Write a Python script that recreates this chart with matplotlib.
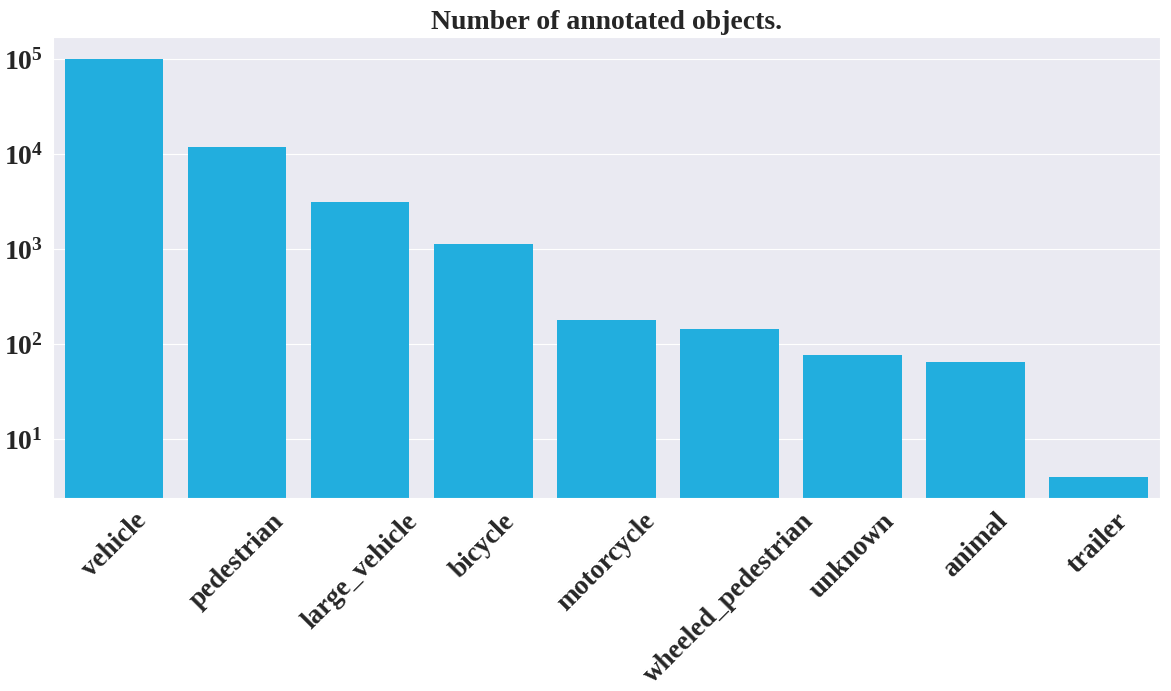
import matplotlib
matplotlib.use('Agg')
import matplotlib.pyplot as plt
import seaborn as sns

# Object counts per class
classes = ['vehicle', 'pedestrian', 'large_vehicle', 'bicycle', 'motorcycle',
           'wheeled_pedestrian', 'unknown', 'animal', 'trailer']
counts = [100000, 11900, 3170, 1130, 182, 144, 78, 65, 4]

sns.set_style('darkgrid')
plt.rcParams['font.family'] = ['Liberation Serif', 'DejaVu Serif']
plt.rcParams['font.weight'] = 'bold'
plt.rcParams['mathtext.fontset'] = 'custom'
plt.rcParams['mathtext.rm'] = 'Liberation Serif:bold'
plt.rcParams['mathtext.it'] = 'Liberation Serif:bold'
plt.rcParams['mathtext.bf'] = 'Liberation Serif:bold'

fig, ax = plt.subplots(figsize=(11.71, 6.91), dpi=100)
ax.bar(range(len(classes)), counts, width=0.8, color='#22AEDE',
       linewidth=0, zorder=2)
ax.set_yscale('log')
ax.set_xlim(-0.5, len(classes) - 0.5)
ax.set_ylim(2.4, 170000)
ax.grid(False, axis='x')

ax.set_xticks(range(len(classes)))
ax.set_xticklabels(classes, rotation=45, ha='center', fontsize=19.5, fontweight='bold')
ax.tick_params(axis='x', pad=4)
ax.tick_params(axis='y', labelsize=20, which='major')
ax.tick_params(axis='y', which='minor', length=0)
ax.set_title('Number of annotated objects.', fontsize=20, fontweight='bold', pad=6)

plt.subplots_adjust(left=0.045, right=0.9906, top=0.946, bottom=0.279)
plt.savefig('out.png', dpi=100)
